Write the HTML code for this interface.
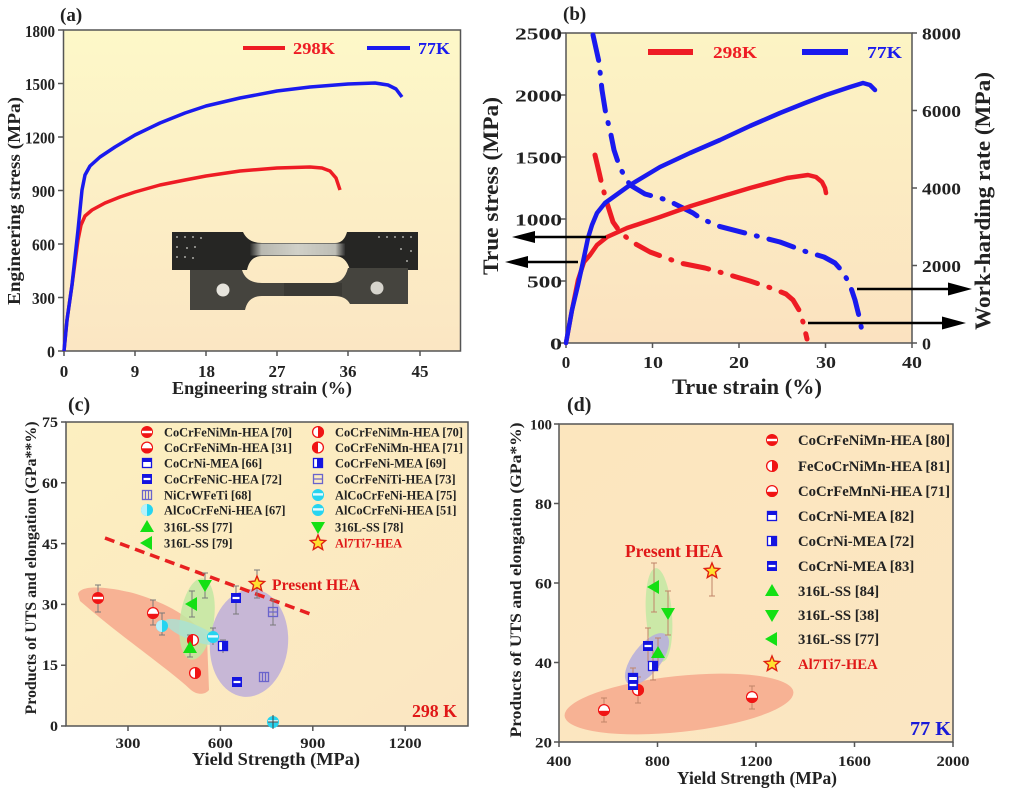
<!DOCTYPE html>
<html><head><meta charset="utf-8"><style>
html,body{margin:0;padding:0;background:#fff;}
svg{display:block;}
text{font-family:"Liberation Serif",serif;font-weight:bold;fill:#222;}
</style></head><body>
<svg width="1024" height="791" viewBox="0 0 1024 791" xmlns="http://www.w3.org/2000/svg">
<defs>
<linearGradient id="gA" x1="0" y1="0" x2="0" y2="1"><stop offset="0" stop-color="#fdf8c8"/><stop offset="1" stop-color="#fbe6c3"/></linearGradient>
<linearGradient id="gB" x1="0" y1="0" x2="0" y2="1"><stop offset="0" stop-color="#fcf4c4"/><stop offset="1" stop-color="#fbe2c0"/></linearGradient>
<linearGradient id="gC" x1="0" y1="0" x2="1" y2="1"><stop offset="0" stop-color="#fcefc0"/><stop offset="1" stop-color="#fbe6c2"/></linearGradient>
<linearGradient id="gD" x1="0" y1="0" x2="1" y2="1"><stop offset="0" stop-color="#fce6be"/><stop offset="1" stop-color="#fbe6c2"/></linearGradient>
<linearGradient id="gGauge" x1="0" y1="0" x2="1" y2="0"><stop offset="0" stop-color="#2a2a28"/><stop offset="0.12" stop-color="#b8b8b0"/><stop offset="0.5" stop-color="#d0d0c8"/><stop offset="0.9" stop-color="#bdbdb5"/><stop offset="1" stop-color="#303030"/></linearGradient>
<g id="cR1"><circle r="6" fill="#f01414"/><rect x="-5" y="-1.2" width="10" height="2.4" fill="#fff"/></g>
<g id="cR2"><circle r="5.4" fill="#fff" stroke="#f01414" stroke-width="1.3"/><path d="M-6,0 A6,6 0 0 0 6,0 Z" fill="#f01414"/><rect x="-5" y="-0.8" width="10" height="1.6" fill="#fff"/></g>
<g id="cRL"><circle r="5.4" fill="#fff" stroke="#f01414" stroke-width="1.3"/><path d="M0,-6 A6,6 0 0 1 0,6 Z" fill="#f01414"/></g>
<g id="cRR"><circle r="5.4" fill="#fff" stroke="#f01414" stroke-width="1.3"/><path d="M0,-6 A6,6 0 0 0 0,6 Z" fill="#f01414"/></g>
<g id="sB1"><rect x="-5" y="-5" width="10" height="10" fill="#1414e0"/><rect x="-3.5" y="-1.1" width="7" height="2.2" fill="#fff"/></g>
<g id="sB2"><rect x="-4.5" y="-4.5" width="9" height="9" fill="#fff" stroke="#1414e0" stroke-width="1.3"/><rect x="-5" y="-5" width="10" height="4" fill="#1414e0"/></g>
<g id="sBL"><rect x="-4.5" y="-4.5" width="9" height="9" fill="#fff" stroke="#1414e0" stroke-width="1.3"/><rect x="-1" y="-5" width="6" height="10" fill="#1414e0"/></g>
<g id="sLV"><rect x="-4.5" y="-4.5" width="9" height="9" fill="none" stroke="#6a64cc" stroke-width="1.3"/><path d="M-1.5,-4.5 V4.5 M1.5,-4.5 V4.5" stroke="#6a64cc" stroke-width="1.2"/></g>
<g id="sLH"><rect x="-4.5" y="-4.5" width="9" height="9" fill="none" stroke="#6a64cc" stroke-width="1.3"/><path d="M-4.5,0 H4.5" stroke="#6a64cc" stroke-width="1.2"/></g>
<g id="cC1"><circle r="6" fill="#26d4f0"/><path d="M0,-6 A6,6 0 0 0 0,6 Z" fill="#b8f2fb"/></g>
<g id="cC2"><circle r="6" fill="#26d4f0"/><rect x="-5" y="-1.8" width="10" height="2.4" fill="#e6fbff"/></g>
<g id="tU"><polygon points="0,-7 7,5 -7,5" fill="#14e014"/></g>
<g id="tD"><polygon points="0,7 7,-5 -7,-5" fill="#14e014"/></g>
<g id="tL"><polygon points="-7,0 5,-7 5,7" fill="#14e014"/></g>
<g id="st"><polygon points="0,-8 2.116,-2.912 7.608,-2.472 3.424,1.112 4.702,6.472 0,3.6 -4.702,6.472 -3.424,1.112 -7.608,-2.472 -2.116,-2.912" fill="#ffe030" stroke="#e02010" stroke-width="1.4"/></g>
</defs>

<!-- ================= PANEL (a) ================= -->
<text x="60" y="21" font-size="19">(a)</text>
<rect x="63.5" y="30" width="397" height="321" fill="url(#gA)" stroke="#555" stroke-width="1.5"/>
<g stroke="#555" stroke-width="1.5">
<path d="M58,30H63.5M58,83.5H63.5M58,137H63.5M58,190.5H63.5M58,244H63.5M58,297.5H63.5M58,351H63.5"/>
<path d="M64,351V356M135,351V356M206,351V356M277,351V356M348,351V356M420,351V356"/>
</g>
<g font-size="16.5" text-anchor="end">
<text x="55" y="37" textLength="30" lengthAdjust="spacingAndGlyphs">1800</text>
<text x="55" y="90" textLength="30" lengthAdjust="spacingAndGlyphs">1500</text>
<text x="55" y="143.5" textLength="30" lengthAdjust="spacingAndGlyphs">1200</text>
<text x="55" y="197" textLength="23" lengthAdjust="spacingAndGlyphs">900</text>
<text x="55" y="250.5" textLength="23" lengthAdjust="spacingAndGlyphs">600</text>
<text x="55" y="304" textLength="23" lengthAdjust="spacingAndGlyphs">300</text>
<text x="55" y="357.5" textLength="8" lengthAdjust="spacingAndGlyphs">0</text>
</g>
<g font-size="17" text-anchor="middle">
<text x="64" y="377">0</text>
<text x="135" y="377">9</text>
<text x="206.5" y="377">18</text>
<text x="277" y="377">27</text>
<text x="348" y="377">36</text>
<text x="420" y="377">45</text>
</g>
<text x="262" y="394" font-size="18" text-anchor="middle" textLength="180" lengthAdjust="spacingAndGlyphs">Engineering strain (%)</text>
<text transform="translate(20,201) rotate(-90)" font-size="18" text-anchor="middle" textLength="208" lengthAdjust="spacingAndGlyphs">Engineering stress (MPa)</text>
<line x1="243" y1="48" x2="285" y2="48" stroke="#ee1c24" stroke-width="4"/>
<text x="293" y="54" font-size="17" style="fill:#ee1c24" textLength="42" lengthAdjust="spacingAndGlyphs">298K</text>
<line x1="367" y1="48" x2="410" y2="48" stroke="#1a1aee" stroke-width="4"/>
<text x="418" y="54" font-size="17" style="fill:#1a1aee" textLength="32" lengthAdjust="spacingAndGlyphs">77K</text>
<g>
<path d="M172,232 L243,232 Q248,243 262,243 L335,243 Q344,243 347,232 L418,232 L418,270 L350,270 Q346,256 335,256 L262,256 Q250,256 247,270 L172,270 Z" fill="#262624"/>
<rect x="250" y="243.5" width="95" height="12" fill="url(#gGauge)"/>
<path d="M190,270 L242,270 Q246,283 262,283 L332,283 Q344,283 348,268 L408,268 L408,304 L350,304 Q346,296 334,296 L262,296 Q248,296 245,310 L190,310 Z" fill="#45443e"/>
<rect x="284" y="283" width="58" height="13" fill="#3a3934"/>
<circle cx="223" cy="290" r="6.5" fill="#e6e4dc"/>
<circle cx="377" cy="288" r="6.5" fill="#d6d4cc"/>
<g fill="#8a8a86">
<rect x="176" y="236" width="2" height="2"/><rect x="184" y="236" width="2" height="2"/><rect x="192" y="236" width="2" height="2"/><rect x="200" y="237" width="2" height="2"/>
<rect x="176" y="246" width="2" height="2"/><rect x="186" y="247" width="2" height="2"/><rect x="194" y="246" width="2" height="2"/>
<rect x="176" y="256" width="2" height="2"/><rect x="184" y="256" width="2" height="2"/><rect x="192" y="257" width="2" height="2"/>
<rect x="378" y="236" width="2" height="2"/><rect x="386" y="236" width="2" height="2"/><rect x="394" y="236" width="2" height="2"/><rect x="402" y="236" width="2" height="2"/><rect x="410" y="236" width="2" height="2"/>
<rect x="400" y="248" width="2" height="2"/><rect x="410" y="250" width="2" height="2"/><rect x="406" y="260" width="2" height="2"/>
</g>
</g>
<path d="M64,351 L67,320 L72,285 L78,240 L81,225 L85,216 L92,210 L105,203 L120,197 L135,192 L160,185 L185,180 L206,176 L240,171 L277,168 L310,167 L322,168 L330,171 L336,178 L340,190" fill="none" stroke="#ee1c24" stroke-width="3.5" stroke-linejoin="round"/>
<path d="M64,351 L67,320 L72,285 L78,230 L82,190 L85,175 L90,166 L100,157 L115,147 L135,135 L160,123 L185,113 L206,106 L240,98 L277,91 L310,87 L348,84 L375,83 L388,85 L396,89 L402,97" fill="none" stroke="#1a1aee" stroke-width="3.5" stroke-linejoin="round"/>

<!-- ================= PANEL (b) ================= -->
<text x="563" y="20" font-size="19">(b)</text>
<rect x="566" y="33" width="346" height="310" fill="url(#gB)" stroke="#555" stroke-width="1.5"/>
<g stroke="#555" stroke-width="1.5">
<path d="M561,33H566M561,95H566M561,157H566M561,219H566M561,281H566M561,343H566"/>
<path d="M912,33H917M912,110.5H917M912,188H917M912,265.5H917M912,343H917"/>
<path d="M566,343V348M652.5,343V348M739,343V348M825.5,343V348M912,343V348"/>
</g>
<g font-size="17" text-anchor="end">
<text x="562" y="39.5" textLength="47" lengthAdjust="spacingAndGlyphs">2500</text>
<text x="562" y="101.5" textLength="47" lengthAdjust="spacingAndGlyphs">2000</text>
<text x="562" y="163.5" textLength="47" lengthAdjust="spacingAndGlyphs">1500</text>
<text x="562" y="225.5" textLength="47" lengthAdjust="spacingAndGlyphs">1000</text>
<text x="562" y="287.5" textLength="35" lengthAdjust="spacingAndGlyphs">500</text>
<text x="562" y="349.5" textLength="12" lengthAdjust="spacingAndGlyphs">0</text>
</g>
<g font-size="17">
<text x="922" y="39.5" textLength="39" lengthAdjust="spacingAndGlyphs">8000</text>
<text x="922" y="117" textLength="39" lengthAdjust="spacingAndGlyphs">6000</text>
<text x="922" y="194.5" textLength="39" lengthAdjust="spacingAndGlyphs">4000</text>
<text x="922" y="272" textLength="39" lengthAdjust="spacingAndGlyphs">2000</text>
<text x="922" y="349.5" textLength="9" lengthAdjust="spacingAndGlyphs">0</text>
</g>
<g font-size="17" text-anchor="middle">
<text x="566" y="368">0</text>
<text x="653" y="368" textLength="20" lengthAdjust="spacingAndGlyphs">10</text>
<text x="739" y="368" textLength="20" lengthAdjust="spacingAndGlyphs">20</text>
<text x="826" y="368" textLength="20" lengthAdjust="spacingAndGlyphs">30</text>
<text x="912" y="368" textLength="20" lengthAdjust="spacingAndGlyphs">40</text>
</g>
<text x="747" y="394" font-size="22" text-anchor="middle" textLength="150" lengthAdjust="spacingAndGlyphs">True strain (%)</text>
<text transform="translate(498,186) rotate(-90)" font-size="22" text-anchor="middle" textLength="178" lengthAdjust="spacingAndGlyphs">True stress (MPa)</text>
<text transform="translate(990,201) rotate(-90)" font-size="22" text-anchor="middle" textLength="258" lengthAdjust="spacingAndGlyphs">Work-harding rate (MPa)</text>
<line x1="648" y1="52" x2="693" y2="52" stroke="#ee1c24" stroke-width="6"/>
<text x="713" y="58" font-size="17" style="fill:#ee1c24" textLength="44" lengthAdjust="spacingAndGlyphs">298K</text>
<line x1="802" y1="52" x2="848" y2="52" stroke="#1a1aee" stroke-width="6"/>
<text x="867" y="58" font-size="17" style="fill:#1a1aee" textLength="35" lengthAdjust="spacingAndGlyphs">77K</text>
<!-- dash-dot work hardening -->
<path d="M595,155 L599,172 L602,185 L607,203 L613,222 L620,232 L632,242 L650,252 L680,263 L705,268 L723,273 L750,281 L771,288 L786,294 L793,300 L799,310 L803,322 L807,339" fill="none" stroke="#ee1c24" stroke-width="5" stroke-linecap="round" stroke-linejoin="round" stroke-dasharray="26 12 1 12"/>
<path d="M593,35 L599,62 L602,90 L606,115 L610,130 L614,150 L620,168 L630,185 L645,194 L667,200 L693,213 L700,218 L718,226 L745,233 L780,242 L807,252 L824,257 L835,263 L843,272 L850,285 L855,300 L859,316 L862,331" fill="none" stroke="#1a1aee" stroke-width="5" stroke-linecap="round" stroke-linejoin="round" stroke-dasharray="26 12 1 12"/>
<!-- true stress -->
<path d="M566,343 L572,310 L578,280 L584,262 L590,255 L597,245 L607,237 L627,228 L660,217 L691,206 L720,197 L750,188 L787,178 L808,175 L816,177 L822,182 L825,188 L826,193" fill="none" stroke="#ee1c24" stroke-width="4.5" stroke-linejoin="round" stroke-linecap="round"/>
<path d="M566,343 L572,310 L578,285 L583,262 L588,238 L592,225 L597,213 L605,203 L630,185 L660,167 L690,153 L720,140 L750,126 L780,113 L805,103 L826,95 L850,87 L863,83 L870,85 L875,90" fill="none" stroke="#1a1aee" stroke-width="4.5" stroke-linejoin="round" stroke-linecap="round"/>
<g stroke="#000" stroke-width="2.5">
<line x1="606" y1="237" x2="530" y2="237"/>
<line x1="578" y1="262" x2="525" y2="262"/>
<line x1="857" y1="289" x2="950" y2="289"/>
<line x1="808" y1="323" x2="944" y2="323"/>
</g>
<g fill="#000">
<polygon points="512,237 535,231 535,243"/>
<polygon points="505,262 528,256 528,268"/>
<polygon points="972,289 948,282.5 948,295.5"/>
<polygon points="966,323 942,316.5 942,329.5"/>
</g>

<!-- ================= PANEL (c) ================= -->
<text x="68" y="411" font-size="20">(c)</text>
<rect x="66" y="422" width="402" height="304" fill="url(#gC)" stroke="#555" stroke-width="1.5"/>
<g stroke="#555" stroke-width="1.5">
<path d="M61,422H66M61,482.8H66M61,543.6H66M61,604.4H66M61,665.2H66M61,726H66"/>
<path d="M128,726V731M220.4,726V731M312.8,726V731M405.2,726V731"/>
</g>
<g font-size="15" text-anchor="end">
<text x="58" y="427" textLength="16" lengthAdjust="spacingAndGlyphs">75</text>
<text x="58" y="488" textLength="16" lengthAdjust="spacingAndGlyphs">60</text>
<text x="58" y="549" textLength="16" lengthAdjust="spacingAndGlyphs">45</text>
<text x="58" y="609.5" textLength="16" lengthAdjust="spacingAndGlyphs">30</text>
<text x="58" y="670" textLength="16" lengthAdjust="spacingAndGlyphs">15</text>
<text x="58" y="731" textLength="8" lengthAdjust="spacingAndGlyphs">0</text>
</g>
<g font-size="15" text-anchor="middle">
<text x="128" y="748" textLength="25" lengthAdjust="spacingAndGlyphs">300</text>
<text x="220.4" y="748" textLength="25" lengthAdjust="spacingAndGlyphs">600</text>
<text x="312.8" y="748" textLength="25" lengthAdjust="spacingAndGlyphs">900</text>
<text x="405.2" y="748" textLength="33" lengthAdjust="spacingAndGlyphs">1200</text>
</g>
<text x="276" y="765" font-size="18" text-anchor="middle" textLength="168" lengthAdjust="spacingAndGlyphs">Yield Strength (MPa)</text>
<text transform="translate(36,568) rotate(-90)" font-size="15.5" text-anchor="middle" textLength="293" lengthAdjust="spacingAndGlyphs">Products of UTS and elongation (GPa**%)</text>
<path d="M78,594 C80,586 100,585 133,593 C160,601 190,614 207,638 L209,690 C205,695 197,695 191,690 C170,670 120,636 80,601 Z" fill="#f6a88c" opacity="0.85"/>
<ellipse cx="197" cy="619" rx="17" ry="41" transform="rotate(8 197 619)" fill="#c2e8a2" opacity="0.85"/>
<ellipse cx="192" cy="632" rx="29" ry="8" transform="rotate(22 192 632)" fill="#a8e2d6" opacity="0.8"/>
<ellipse cx="249" cy="643" rx="39" ry="54" transform="rotate(6 249 643)" fill="#c2b2d8" opacity="0.92"/>
<line x1="105" y1="538" x2="313" y2="615" stroke="#e82020" stroke-width="3.5" stroke-dasharray="10 6"/>
<g stroke="#7a7a7a" stroke-width="1">
<path d="M98,585V612M95,585H101M95,612H101"/>
<path d="M153,600V625M150,600H156M150,625H156"/>
<path d="M162,613V635M159,613H165M159,635H165"/>
<path d="M190,635V657M187,635H193M187,657H193"/>
<path d="M192,591V617M189,591H195M189,617H195"/>
<path d="M205,573V598M202,573H208M202,598H208"/>
<path d="M213,628V645M210,628H216"/>
<path d="M223,640V653M220,640H226"/>
<path d="M236,586V614M233,586H239M233,614H239"/>
<path d="M273,600V625M270,600H276M270,625H276"/>
<path d="M257,570V598M254,570H260M254,598H260"/>
</g>
<use href="#cR1" x="98" y="598"/>
<use href="#cR2" x="153" y="613"/>
<use href="#cC1" x="162" y="626"/>
<use href="#cRR" x="193" y="640"/>
<use href="#tU" x="190" y="648"/>
<use href="#tL" x="192" y="604"/>
<use href="#tD" x="205" y="585"/>
<use href="#cRL" x="195" y="673"/>
<use href="#cC2" x="213" y="637"/>
<use href="#sBL" x="223" y="646"/>
<use href="#sB1" x="236" y="598"/>
<use href="#sB1" x="237" y="682"/>
<use href="#sLV" x="264" y="677"/>
<use href="#sLH" x="273" y="612"/>
<use href="#cC2" x="273" y="722"/>
<path d="M273,715V729M268,722H278" stroke="#444" stroke-width="1"/>
<use href="#st" x="257" y="584"/>
<text x="272" y="590" font-size="15.6" style="fill:#e01818" textLength="88" lengthAdjust="spacingAndGlyphs">Present HEA</text>
<text x="412" y="717" font-size="18" style="fill:#e01818" textLength="45" lengthAdjust="spacingAndGlyphs">298 K</text>
<g font-size="12.4">
<use href="#cR1" x="147" y="432"/><text x="164" y="436.5" textLength="128" lengthAdjust="spacingAndGlyphs">CoCrFeNiMn-HEA [70]</text>
<use href="#cR2" x="147" y="447.5"/><text x="164" y="452" textLength="128" lengthAdjust="spacingAndGlyphs">CoCrFeNiMn-HEA [31]</text>
<use href="#sB2" x="147" y="463"/><text x="164" y="467.5">CoCrNi-MEA [66]</text>
<use href="#sB1" x="147" y="479"/><text x="164" y="483.5">CoCrFeNiC-HEA [72]</text>
<use href="#sLV" x="147" y="495"/><text x="164" y="499.5">NiCrWFeTi [68]</text>
<use href="#cC1" x="147" y="510"/><text x="164" y="514.5">AlCoCrFeNi-HEA [67]</text>
<use href="#tU" x="147" y="527"/><text x="164" y="531.5">316L-SS [77]</text>
<use href="#tL" x="147" y="543"/><text x="164" y="547.5">316L-SS [79]</text>
<use href="#cRL" x="318" y="432"/><text x="335" y="436.5" textLength="128" lengthAdjust="spacingAndGlyphs">CoCrFeNiMn-HEA [70]</text>
<use href="#cRR" x="318" y="447.5"/><text x="335" y="452" textLength="128" lengthAdjust="spacingAndGlyphs">CoCrFeNiMn-HEA [71]</text>
<use href="#sBL" x="318" y="463"/><text x="335" y="467.5">CoCrFeNi-MEA [69]</text>
<use href="#sLH" x="318" y="479"/><text x="335" y="483.5">CoCrFeNiTi-HEA [73]</text>
<use href="#cC2" x="318" y="495"/><text x="335" y="499.5">AlCoCrFeNi-HEA [75]</text>
<use href="#cC2" x="318" y="510"/><text x="335" y="514.5">AlCoCrFeNi-HEA [51]</text>
<use href="#tD" x="318" y="527"/><text x="335" y="531.5">316L-SS [78]</text>
<use href="#st" x="318" y="543"/><text x="335" y="547.5" style="fill:#e01818">Al7Ti7-HEA</text>
</g>

<!-- ================= PANEL (d) ================= -->
<text x="567" y="411" font-size="20">(d)</text>
<rect x="559" y="424" width="394" height="318" fill="url(#gD)" stroke="#555" stroke-width="1.5"/>
<g stroke="#555" stroke-width="1.5">
<path d="M554,424H559M554,503.5H559M554,583H559M554,662.5H559M554,742H559"/>
<path d="M559,742V747M657.5,742V747M756,742V747M854.5,742V747M953,742V747"/>
</g>
<g font-size="15" text-anchor="end">
<text x="552" y="429.5" textLength="22" lengthAdjust="spacingAndGlyphs">100</text>
<text x="552" y="509" textLength="17" lengthAdjust="spacingAndGlyphs">80</text>
<text x="552" y="588.5" textLength="17" lengthAdjust="spacingAndGlyphs">60</text>
<text x="552" y="668" textLength="17" lengthAdjust="spacingAndGlyphs">40</text>
<text x="552" y="747.5" textLength="17" lengthAdjust="spacingAndGlyphs">20</text>
</g>
<g font-size="15" text-anchor="middle">
<text x="559" y="766" textLength="25" lengthAdjust="spacingAndGlyphs">400</text>
<text x="657.5" y="766" textLength="25" lengthAdjust="spacingAndGlyphs">800</text>
<text x="756" y="766" textLength="33" lengthAdjust="spacingAndGlyphs">1200</text>
<text x="854.5" y="766" textLength="33" lengthAdjust="spacingAndGlyphs">1600</text>
<text x="953" y="766" textLength="33" lengthAdjust="spacingAndGlyphs">2000</text>
</g>
<text x="757" y="784" font-size="17.4" text-anchor="middle" textLength="160" lengthAdjust="spacingAndGlyphs">Yield Strength (MPa)</text>
<text transform="translate(521,580) rotate(-90)" font-size="16" text-anchor="middle" textLength="315" lengthAdjust="spacingAndGlyphs">Products of UTS and elongation (GPa*%)</text>
<ellipse cx="679" cy="704" rx="115" ry="28" transform="rotate(-6 679 704)" fill="#f6a88c" opacity="0.85"/>
<ellipse cx="659" cy="615" rx="13" ry="47" transform="rotate(-4 659 615)" fill="#c2e8a2" opacity="0.85"/>
<ellipse cx="647" cy="659" rx="31" ry="14" transform="rotate(-52 647 659)" fill="#b8b0dc" opacity="0.9"/>
<g stroke="#c08468" stroke-width="1">
<path d="M604,698V722M601,698H607M601,722H607"/>
<path d="M638,677V703M635,677H641M635,703H641"/>
<path d="M752,686V709M749,686H755M749,709H755"/>
<path d="M633,668V690M630,668H636"/>
<path d="M648,628V662M645,628H651"/>
<path d="M653,650V680M650,680H656"/>
<path d="M658,638V668M655,638H661"/>
<path d="M654,563V612M651,563H657M651,612H657"/>
<path d="M668,591V635M665,591H671M665,635H671"/>
<path d="M712,563V596M709,596H715"/>
</g>
<use href="#cR2" x="604" y="710"/>
<use href="#cRL" x="638" y="690"/>
<use href="#cR2" x="752" y="697"/>
<use href="#sB2" x="633" y="678"/>
<use href="#sB1" x="633" y="685"/>
<use href="#sB1" x="648" y="646"/>
<use href="#sBL" x="653" y="666"/>
<use href="#tU" x="658" y="653"/>
<use href="#tL" x="654" y="587"/>
<use href="#tD" x="668" y="613"/>
<use href="#st" x="712" y="571"/>
<text x="625" y="557" font-size="17.4" style="fill:#e01818" textLength="98" lengthAdjust="spacingAndGlyphs">Present HEA</text>
<text x="910" y="735" font-size="20" style="fill:#1a1ad8" textLength="41" lengthAdjust="spacingAndGlyphs">77 K</text>
<g font-size="14.7">
<use href="#cR1" x="772" y="440"/><text x="798" y="445" textLength="152" lengthAdjust="spacingAndGlyphs">CoCrFeNiMn-HEA [80]</text>
<use href="#cRL" x="772" y="466"/><text x="798" y="471" textLength="152" lengthAdjust="spacingAndGlyphs">FeCoCrNiMn-HEA [81]</text>
<use href="#cR2" x="772" y="491"/><text x="798" y="496" textLength="152" lengthAdjust="spacingAndGlyphs">CoCrFeMnNi-HEA [71]</text>
<use href="#sB2" x="772" y="516"/><text x="798" y="521">CoCrNi-MEA [82]</text>
<use href="#sBL" x="772" y="541"/><text x="798" y="546">CoCrNi-MEA [72]</text>
<use href="#sB1" x="772" y="566"/><text x="798" y="571">CoCrNi-MEA [83]</text>
<use href="#tU" x="772" y="591"/><text x="798" y="596">316L-SS [84]</text>
<use href="#tD" x="772" y="615"/><text x="798" y="620">316L-SS [38]</text>
<use href="#tL" x="772" y="639"/><text x="798" y="644">316L-SS [77]</text>
<use href="#st" x="772" y="664"/><text x="798" y="669" style="fill:#e01818">Al7Ti7-HEA</text>
</g>
</svg>
</body></html>
